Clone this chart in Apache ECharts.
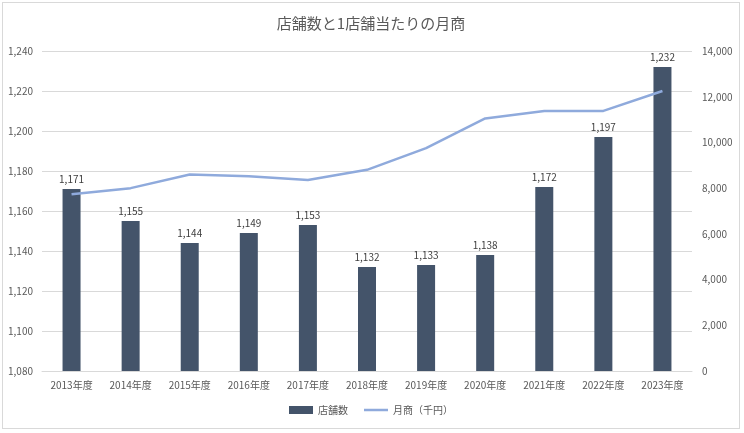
<!DOCTYPE html>
<html><head><meta charset="utf-8">
<script src="https://cdn.jsdelivr.net/npm/echarts@6/dist/echarts.min.js"></script>
<style>
html,body{margin:0;padding:0;background:#fff;}
#c{position:absolute;left:2px;top:2px;width:738px;height:427px;border:1px solid #d9d9d9;box-sizing:border-box;}
</style></head><body>
<div id="c"></div>
<script>
const titleText = '店舗数と1店舗当たりの月商';
const categories = ['2013年度','2014年度','2015年度','2016年度','2017年度','2018年度','2019年度','2020年度','2021年度','2022年度','2023年度'];
const storeCounts = [1171,1155,1144,1149,1153,1132,1133,1138,1172,1197,1232];
const monthlySales = [7730,8000,8600,8520,8360,8800,9750,11050,11380,11380,12250];
const barName = '店舗数';
const lineName = '月商（千円）';

const font = '"Noto Sans CJK JP", "Noto Sans", sans-serif';
const chart = echarts.init(document.getElementById('c'));
chart.setOption({
  animation:false,
  textStyle:{fontFamily:font},
  title:{text:titleText,left:'center',top:8,textStyle:{fontSize:15,fontWeight:'normal',color:'#595959',fontFamily:font}},
  legend:{bottom:8,left:'center',itemGap:16,itemWidth:24,itemHeight:8,textStyle:{fontSize:10,color:'#595959',fontFamily:font},
    data:[{name:barName,icon:'rect'},{name:lineName,icon:'path://M0,0 L0,0 Z M24,8 L24,8 Z M0,2.75 L24,2.75 L24,5.25 L0,5.25 Z'}]},
  grid:{left:39,right:47,top:48,bottom:57},
  xAxis:{type:'category',data:categories,axisTick:{show:false},axisLine:{lineStyle:{color:'#d9d9d9'}},
    axisLabel:{fontSize:10,color:'#595959',margin:9}},
  yAxis:[
    {type:'value',min:1080,max:1240,interval:20,axisLabel:{fontSize:10,color:'#595959',margin:9,formatter:v=>v.toLocaleString('en-US')},
     splitLine:{lineStyle:{color:'#d9d9d9'}},axisLine:{show:false},axisTick:{show:false}},
    {type:'value',min:0,max:14000,interval:2000,axisLabel:{fontSize:10,color:'#595959',margin:10,formatter:v=>v.toLocaleString('en-US')},
     splitLine:{show:false},axisLine:{show:false},axisTick:{show:false}}
  ],
  series:[
    {name:barName,type:'bar',data:storeCounts,barWidth:18,itemStyle:{color:'#44546A'},
     label:{show:true,position:'top',fontSize:10,color:'#404040',distance:5,formatter:p=>p.value.toLocaleString('en-US')}},
    {name:lineName,type:'line',yAxisIndex:1,data:monthlySales,symbol:'none',lineStyle:{color:'#8FAADC',width:2.5},itemStyle:{color:'#8FAADC'}}
  ]
});
</script></body></html>
